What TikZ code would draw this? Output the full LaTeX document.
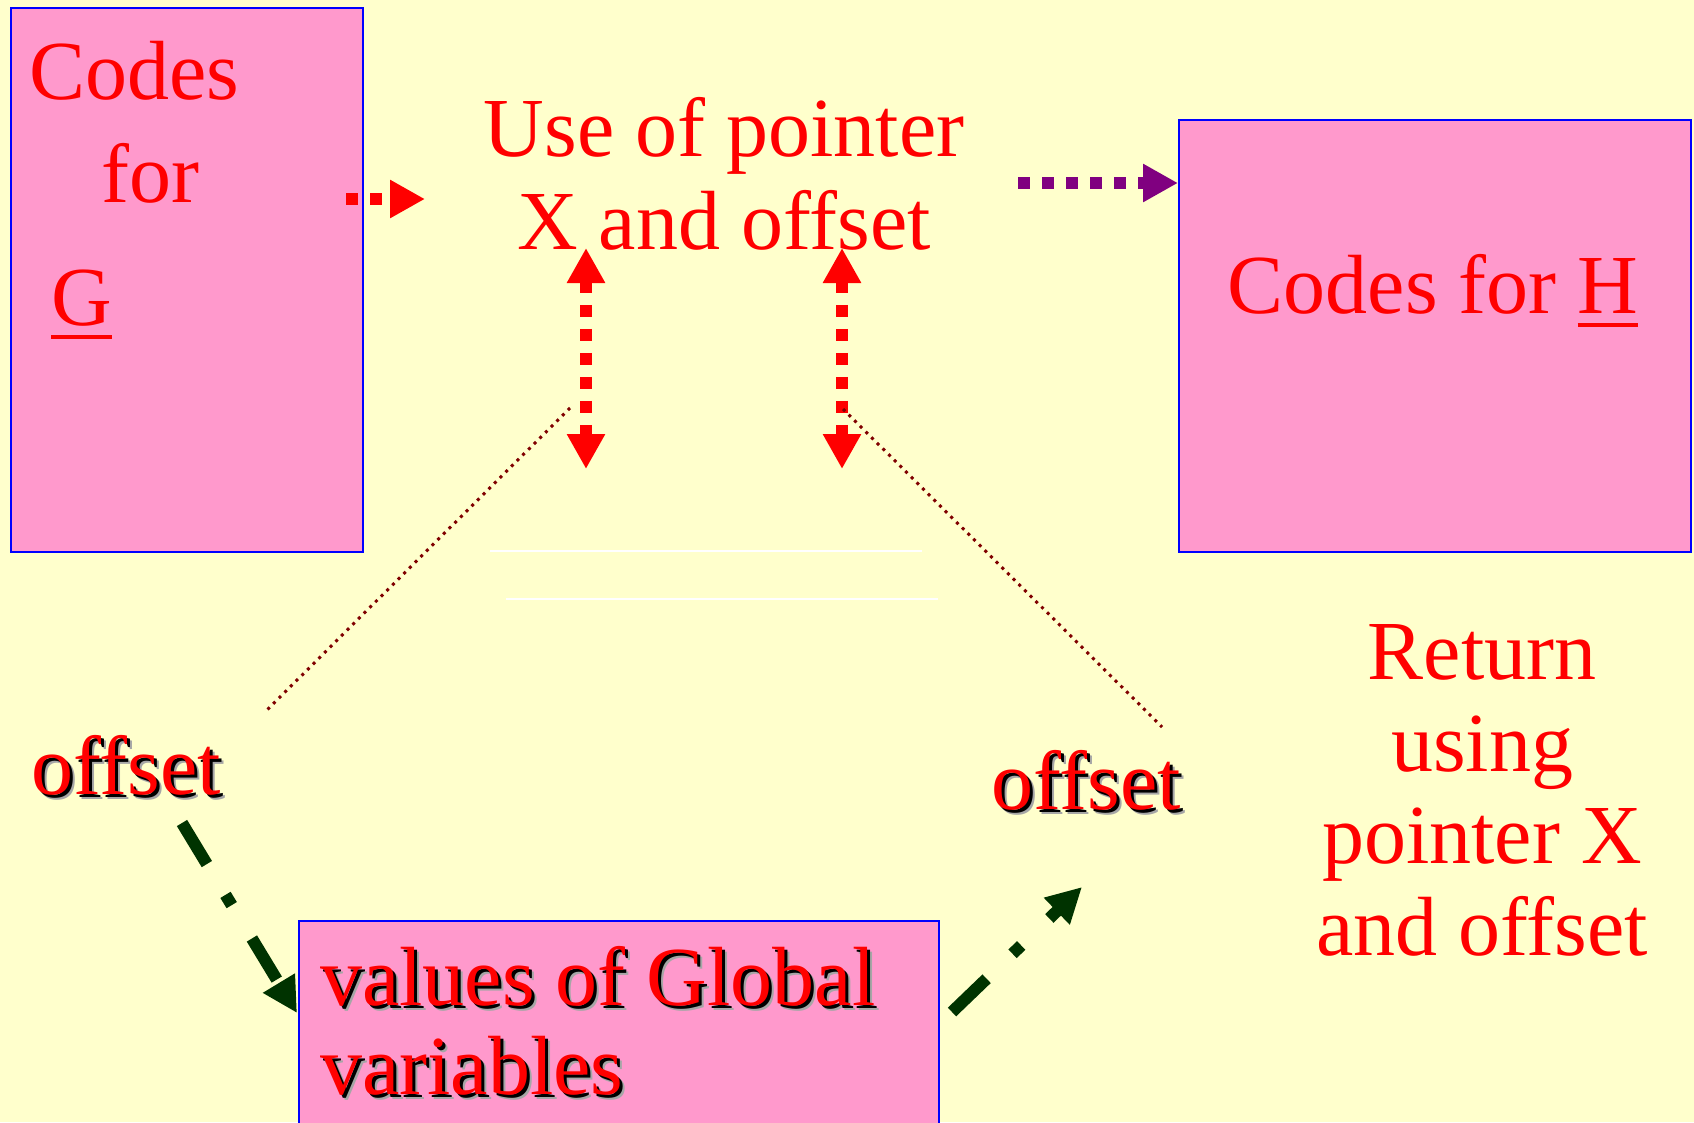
\documentclass[tikz,border=0pt]{standalone}
\usepackage{fontspec}
\setmainfont{Liberation Serif}
\usetikzlibrary{arrows.meta}
\definecolor{slidebg}{HTML}{FFFFCC}
\definecolor{boxpink}{HTML}{FF99CC}
\definecolor{guidered}{HTML}{800000}
\definecolor{flowgreen}{HTML}{003300}
\definecolor{callpurple}{HTML}{800080}
% underlined procedure name
\newcommand{\ulname}[1]{\setbox0\hbox{#1}\rlap{\rule[-14pt]{\wd0}{4pt}}\box0}
% text with a dark drop shadow
\newcommand{\dropshade}[1]{\rlap{\kern5pt\raisebox{-5pt}{\color{black!35}#1}}\rlap{\kern3pt\raisebox{-3pt}{\color{black}#1}}#1}
\tikzset{
  codebox/.style={draw=blue, line width=2pt, fill=boxpink, anchor=north west, inner sep=0pt},
  bigtxt/.style={text=red, inner sep=0pt, font=\fontsize{84}{92}\selectfont},
  ptrarrow/.style={red, line width=12pt, dash pattern=on 12pt off 12pt},
  calltip/.style={-{Triangle[length=35pt,width=36pt]}},
  flowarrow/.style={flowgreen, line width=12pt, dash pattern=on 48pt off 36pt on 12pt off 39pt, -{Triangle[length=35pt,width=35pt]}},
  guide/.style={guidered, line width=3pt, dash pattern=on 3pt off 5pt},
}
\begin{document}
\begin{tikzpicture}[x=1pt, y=-1pt]
\useasboundingbox (0,0) rectangle (1694,1122);
\clip (0,0) rectangle (1694,1122);
\fill[slidebg] (0,0) rectangle (1694,1122);
% code boxes
\node[codebox, minimum width=352pt, minimum height=544pt] (boxG) at (10,7) {};
\node[codebox, minimum width=512pt, minimum height=432pt] (boxH) at (1178,119) {};
\node[codebox, minimum width=640pt, minimum height=230pt] (boxGlobal) at (298,920) {};
% texts (multi-line nodes sit on their last line)
\node[bigtxt, anchor=base west] (gcodes) at (29,99) {Codes};
\node[bigtxt, anchor=base west] (gfor) at (101,202) {for};
\node[bigtxt, anchor=base west] (gname) at (51,325) {\ulname{G}};
\node[bigtxt, anchor=base] (hcodes) at (1433,313) {Codes for \ulname{H}};
\node[bigtxt, anchor=base, align=center, font=\fontsize{84}{93}\selectfont] (ptrtext) at (724,249) {Use of pointer\\X and offset};
\node[bigtxt, anchor=base, align=center] (rettext) at (1482,955) {Return\\using\\pointer X\\and offset};
\node[bigtxt, anchor=base west] (offsetL) at (31,794) {\dropshade{offset}};
\node[bigtxt, anchor=base west] (offsetR) at (991,809) {\dropshade{offset}};
\node[bigtxt, anchor=base west, align=left, font=\fontsize{84}{89}\selectfont] (globtext) at (320,1094) {\dropshade{values of Global}\\\dropshade{variables}};
% arrow ends
\coordinate (gout) at (346,199);
\coordinate (ptrin) at (425,199);
\coordinate (ptrout) at (1018,183);
\coordinate (xup) at (586,248);
\coordinate (xdown) at (586,469);
\coordinate (offup) at (842,248);
\coordinate (offdown) at (842,469);
\coordinate (guideL) at (570,408);
\coordinate (guideLend) at (267,710);
\coordinate (guideR) at (843,409);
\coordinate (guideRend) at (1162,727);
\coordinate (flowL) at (182,823);
\coordinate (flowLin) at (297,1013);
\coordinate (flowR) at (952,1012);
\coordinate (flowRend) at (1082,887);
\coordinate (ruleA) at (490,551);
\coordinate (ruleAend) at (922,551);
\coordinate (ruleB) at (506,599);
\coordinate (ruleBend) at (938,599);
% dotted pointer arrows
\draw[ptrarrow, calltip] (gout) -- (ptrin);
\draw[ptrarrow, calltip, callpurple] (ptrout) -- (ptrout -| boxH.west);
\draw[ptrarrow, {Triangle[length=35pt,width=36pt]}-{Triangle[length=35pt,width=36pt]}] (xup) -- (xdown);
\draw[ptrarrow, {Triangle[length=35pt,width=36pt]}-{Triangle[length=35pt,width=36pt]}] (offup) -- (offdown);
% thin guides
\draw[guide] (guideL) -- (guideLend);
\draw[guide] (guideR) -- (guideRend);
\draw[white, line width=2pt] (ruleA) -- (ruleAend);
\draw[white, line width=2pt] (ruleB) -- (ruleBend);
% offset flow
\draw[flowarrow] (flowL) -- (flowLin);
\draw[flowarrow] (flowR) -- (flowRend);
\end{tikzpicture}
\end{document}
